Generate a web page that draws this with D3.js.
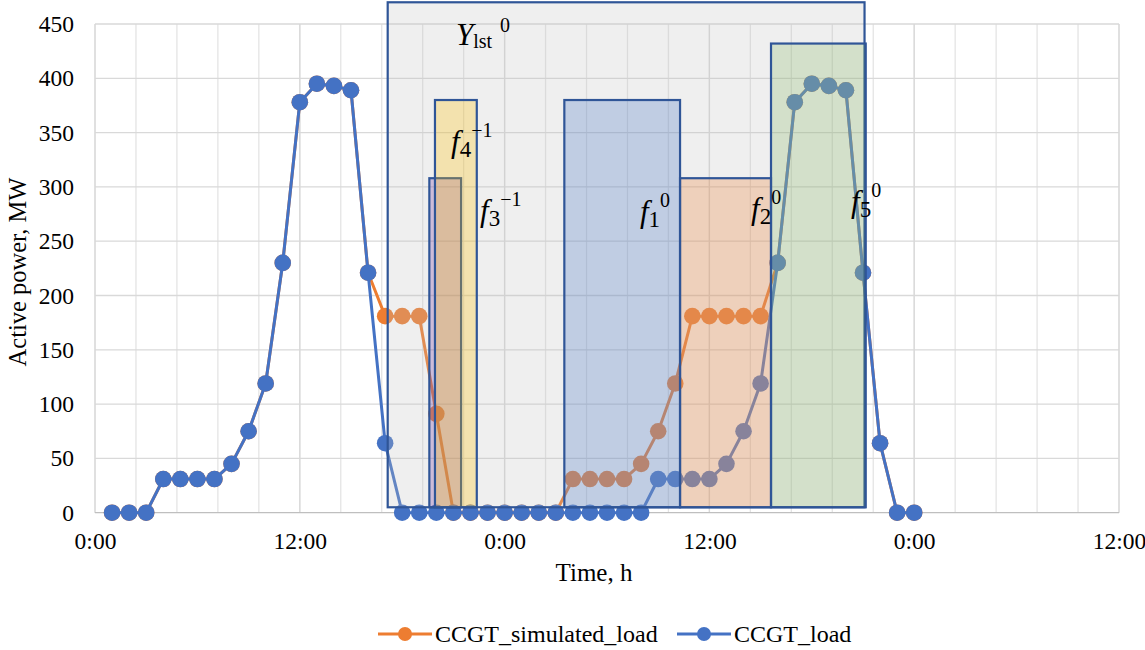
<!DOCTYPE html>
<html>
<head>
<meta charset="utf-8">
<script src="https://cdn.jsdelivr.net/npm/d3@7"></script>
<style>
  body { margin: 0; background: #fff; }
  text { font-family: "Liberation Serif", "Times New Roman", serif; }
</style>
</head>
<body>
<div id="chart"></div>
<script>
// hours since start of day 1
var hours = [1, 2, 3, 4, 5, 6, 7, 8, 9, 10, 11, 12, 13, 14, 15, 16,
  17, 18, 19, 20, 21, 22, 23, 24, 25, 26, 27, 28, 29, 30, 31, 32,
  33, 34, 35, 36, 37, 38, 39, 40, 41, 42, 43, 44, 45, 46, 47, 48];

var ccgtLoad = [0, 0, 0, 31, 31, 31, 31, 45, 75, 119, 230, 378, 395, 393, 389, 221,
  64, 0, 0, 0, 0, 0, 0, 0, 0, 0, 0, 0, 0, 0, 0, 0,
  31, 31, 31, 31, 45, 75, 119, 230, 378, 395, 393, 389, 221, 64, 0, 0];

var ccgtSimulated = [0, 0, 0, 31, 31, 31, 31, 45, 75, 119, 230, 378, 395, 393, 389, 221,
  181, 181, 181, 91, 0, 0, 0, 0, 0, 0, 0, 31, 31, 31, 31, 45,
  75, 119, 181, 181, 181, 181, 181, 230, 378, 395, 393, 389, 221, 64, 0, 0];

var xTicks = [0, 12, 24, 36, 48, 60];
var yTicks = [0, 50, 100, 150, 200, 250, 300, 350, 400, 450];

// overlay boxes: [from hour, to hour, top MW], bottom ~5 MW
var boxNames = ["Ylst0", "f3", "f4", "f1", "f2", "f5"];
var boxFrom = [17.15, 19.59, 19.92, 27.5, 34.28, 39.61];
var boxTo = [45.09, 21.45, 22.37, 34.28, 39.61, 45.16];
var boxTop = [470, 308, 380, 380, 308, 432];
var boxBottom = 5;
var boxColors = ["#bfbfbf", "#7030a0", "#ffc000", "#4472c4", "#ed7d31", "#70ad47"];

// labels: base letter, subscript, superscript, anchor hour, anchor MW
var labelBase = ["Y", "f", "f", "f", "f", "f"];
var labelSub = ["lst", "3", "4", "1", "2", "5"];
var labelSup = ["0", "\u22121", "\u22121", "0", "0", "0"];
var labelHour = [21.15, 22.56, 20.86, 31.93, 38.44, 44.3];
var labelMW = [430.5, 268.6, 332, 267.5, 270.3, 276.7];

var margin = { top: 24, right: 26, bottom: 137.3, left: 95 };
var width = 1145 - margin.left - margin.right;
var height = 650 - margin.top - margin.bottom;

var svg = d3.select("#chart").append("svg")
  .attr("width", 1145)
  .attr("height", 650);

var g = svg.append("g")
  .attr("transform", "translate(" + margin.left + "," + margin.top + ")");

var x = d3.scaleLinear().domain([0, 60]).range([0, width]);
var y = d3.scaleLinear().domain([0, 450]).range([height, 0]);

// minor vertical grid every 2.4 h
var minor = d3.range(0, 60.01, 2.4);
g.append("g").selectAll("line").data(minor).enter().append("line")
  .attr("x1", function (d) { return x(d); })
  .attr("x2", function (d) { return x(d); })
  .attr("y1", 0).attr("y2", height)
  .attr("stroke", "#e4e4e4").attr("stroke-width", 1.3);

g.append("g").selectAll("line").data(xTicks).enter().append("line")
  .attr("x1", function (d) { return x(d); })
  .attr("x2", function (d) { return x(d); })
  .attr("y1", 0).attr("y2", height)
  .attr("stroke", "#d9d9d9").attr("stroke-width", 1.3);

g.append("g").selectAll("line").data(yTicks).enter().append("line")
  .attr("x1", 0).attr("x2", width)
  .attr("y1", function (d) { return y(d); })
  .attr("y2", function (d) { return y(d); })
  .attr("stroke", function (d) { return d === 0 ? "#bfbfbf" : "#d9d9d9"; })
  .attr("stroke-width", 1.3);

// axes (labels only)
var xAxis = g.append("g")
  .attr("transform", "translate(0," + height + ")")
  .call(d3.axisBottom(x).tickValues(xTicks).tickSize(0).tickPadding(20)
    .tickFormat(function (d) { return (d % 24) + ":00"; }));
xAxis.select(".domain").remove();
xAxis.selectAll("text").style("font-size", "23.5px").attr("fill", "#000");

var yAxis = g.append("g")
  .call(d3.axisLeft(y).tickValues(yTicks).tickSize(0).tickPadding(21));
yAxis.select(".domain").remove();
yAxis.selectAll("text").style("font-size", "23.5px").attr("fill", "#000");

g.append("text")
  .attr("x", 594 - margin.left)
  .attr("y", height + 68)
  .attr("text-anchor", "middle")
  .style("font-size", "25px")
  .text("Time, h");

g.append("text")
  .attr("transform", "rotate(-90)")
  .attr("x", -272 + margin.top)
  .attr("y", -95 + 26)
  .attr("text-anchor", "middle")
  .style("font-size", "24.5px")
  .text("Active power, MW");

// series
var line = d3.line()
  .x(function (d) { return x(d[0]); })
  .y(function (d) { return y(d[1]); });

var series = [
  { name: "CCGT_simulated_load", color: "#ed7d31", values: ccgtSimulated },
  { name: "CCGT_load", color: "#4472c4", values: ccgtLoad }
];

series.forEach(function (s) {
  var pts = hours.map(function (h, i) { return [h, s.values[i]]; });
  g.append("path")
    .datum(pts)
    .attr("fill", "none")
    .attr("stroke", s.color)
    .attr("stroke-width", 3)
    .attr("stroke-linejoin", "round")
    .attr("d", line);
  g.append("g").selectAll("circle").data(pts).enter().append("circle")
    .attr("cx", function (d) { return x(d[0]); })
    .attr("cy", function (d) { return y(d[1]); })
    .attr("r", 8.3)
    .attr("fill", s.color);
});

// overlay boxes
boxNames.forEach(function (name, i) {
  g.append("rect")
    .attr("x", x(boxFrom[i]))
    .attr("y", y(boxTop[i]))
    .attr("width", x(boxTo[i]) - x(boxFrom[i]))
    .attr("height", y(boxBottom) - y(boxTop[i]))
    .attr("fill", boxColors[i])
    .attr("fill-opacity", i === 5 ? 0.22 : (i === 0 ? 0.25 : 0.27))
    .attr("stroke", "#2f5597")
    .attr("stroke-width", 2.2);
});

// labels
labelBase.forEach(function (b, i) {
  var t = g.append("text")
    .attr("x", x(labelHour[i]))
    .attr("y", y(labelMW[i]))
    .attr("fill", "#000");
  t.append("tspan")
    .style("font-size", "31px")
    .style("font-style", "italic")
    .text(b);
  t.append("tspan")
    .attr("dy", i === 0 ? 3 : 5)
    .style("font-size", i === 0 ? "20px" : "23px")
    .text(labelSub[i]);
  t.append("tspan")
    .attr("dy", i === 0 ? -16 : -20)
    .attr("dx", i === 0 ? 8 : 0)
    .style("font-size", "20px")
    .text(labelSup[i]);
});

// legend
var legend = svg.append("g");
var legendX = [378, 677];
series.forEach(function (s, i) {
  var lg = legend.append("g").attr("transform", "translate(" + legendX[i] + ",634)");
  lg.append("line").attr("x1", 0).attr("x2", 54).attr("y1", 0).attr("y2", 0)
    .attr("stroke", s.color).attr("stroke-width", 3);
  lg.append("circle").attr("cx", 27).attr("cy", 0).attr("r", 7).attr("fill", s.color);
  lg.append("text").attr("x", 57).attr("y", 8)
    .style("font-size", "24px")
    .text(s.name);
});
</script>
</body>
</html>
